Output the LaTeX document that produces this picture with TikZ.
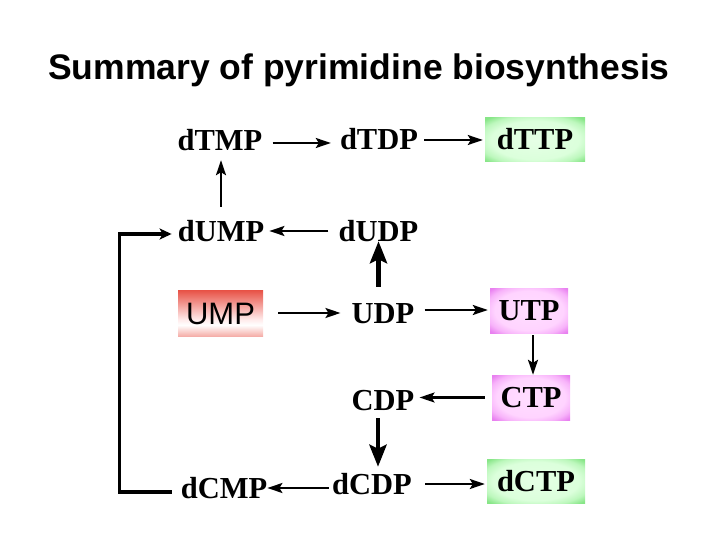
\documentclass[tikz,border=0pt]{standalone}
\usepackage{fontspec}
\setmainfont{Liberation Serif}
\setsansfont{Liberation Sans}
\usetikzlibrary{arrows.meta}
\pgfdeclareradialshading{greenglow}{\pgfpoint{0bp}{0bp}}{rgb(0bp)=(0.9,1,0.9); rgb(22bp)=(0.86,1,0.86); rgb(28.5bp)=(0.74,0.97,0.74); rgb(34bp)=(0.53,0.9,0.53); rgb(50bp)=(0.52,0.9,0.52)}
\pgfdeclareradialshading{pinkglow}{\pgfpoint{0bp}{0bp}}{rgb(0bp)=(1,0.87,1); rgb(22bp)=(1,0.83,1); rgb(28.5bp)=(0.97,0.7,0.98); rgb(34bp)=(0.91,0.5,0.94); rgb(50bp)=(0.9,0.5,0.93)}
\pgfdeclareverticalshading{umpshade}{100bp}{rgb(0bp)=(0.93,0.4,0.36); rgb(15bp)=(0.93,0.42,0.38); rgb(37bp)=(1,1,1); rgb(43bp)=(1,0.92,0.92); rgb(78bp)=(0.9,0.26,0.21); rgb(100bp)=(0.88,0.22,0.18)}
\tikzset{
  cmpd/.style={font=\fontsize{30.5}{31}\selectfont\bfseries, inner sep=0pt, text height=20pt, text depth=0pt},
  gbox/.style={cmpd, shading=greenglow, minimum width=100pt, minimum height=44pt},
  pbox/.style={cmpd, shading=pinkglow, minimum width=78pt, minimum height=45pt},
  rbox/.style={font=\sffamily\fontsize{31}{31}\selectfont, inner sep=0pt, text height=22pt, text depth=0pt, shading=umpshade, minimum width=85pt, minimum height=46pt},
  thinarrow/.style={line width=2.2pt, -{Stealth[length=15pt,width=10pt,inset=3pt]}},
  thickarrow/.style={line width=4.5pt, -{Stealth[length=22pt,width=17pt,inset=4pt]}},
  loopline/.style={line width=3.5pt, -{Stealth[length=12pt,width=11pt,inset=3pt]}},
}
\begin{document}
\begin{tikzpicture}[x=1pt,y=-1pt]
\useasboundingbox (0,0) rectangle (720,540);
\node[font=\sffamily\bfseries\fontsize{35.5}{36}\selectfont, anchor=base, inner sep=0pt] (title) at (359,80) {Summary of pyrimidine biosynthesis};

\node[cmpd] (dTMP) at (220,141) {dTMP};
\node[cmpd] (dTDP) at (379,140) {dTDP};
\node[gbox] (dTTP) at (535,140) {dTTP};
\node[cmpd] (dUMP) at (221,231) {dUMP};
\node[cmpd] (dUDP) at (378.5,231) {dUDP};
\node[rbox] (UMP) at (220.5,313) {UMP};
\node[cmpd] (UDP) at (383,313) {UDP};
\node[pbox] (UTP) at (529,310.5) {UTP};
\node[pbox] (CTP) at (531,397.5) {CTP};
\node[cmpd] (CDP) at (383,400) {CDP};
\node[cmpd] (dCDP) at (372,484) {dCDP};
\node[cmpd] (dCMP) at (224,488) {dCMP};
\node[gbox, minimum width=98pt] (dCTP) at (536,481) {dCTP};

\draw[thinarrow, shorten <=10pt, shorten >=9pt] ([yshift=-2pt]dTMP.east) -- ([yshift=-2pt]dTMP.east -| dTDP.west);
\draw[thinarrow, shorten <=6pt, shorten >=2pt] (dTDP.east) -- (dTDP.east -| dTTP.west);
\draw[thinarrow, shorten <=14pt, shorten >=9pt] (dUMP.north) -- (dUMP.north |- dTMP.south);
\draw[thinarrow, shorten <=10pt, shorten >=5pt] (dUDP.west) -- (dUDP.west -| dUMP.east);
\draw[thickarrow, shorten <=16pt] (UDP.north -| dUDP.south) -- (dUDP.south);
\draw[thinarrow, shorten <=15pt, shorten >=11pt] (UMP.east) -- (UMP.east -| UDP.west);
\draw[thinarrow, shorten <=10pt, shorten >=2pt] ([yshift=3pt]UDP.east) -- ([yshift=3pt]UDP.east -| UTP.west);
\draw[thinarrow, shorten <=2pt] ([xshift=4pt]UTP.south) -- ([xshift=4pt]UTP.south |- CTP.north);
\draw[thinarrow, shorten <=7pt, shorten >=5pt] (CTP.west) -- (CTP.west -| CDP.east);
\draw[thickarrow, shorten <=8pt, shorten >=7pt] ([xshift=-5pt]CDP.south) -- ([xshift=-5pt]CDP.south |- dCDP.north);
\draw[thinarrow, shorten <=3pt] ([yshift=-4pt]dCDP.west) -- ([yshift=-4pt]dCDP.west -| dCMP.east);
\draw[thinarrow, shorten <=13pt, shorten >=2pt] (dCDP.east) -- (dCDP.east -| dCTP.west);
\draw[loopline, shorten <=9pt, shorten >=6pt] ([yshift=-4pt]dCMP.west) -- ++(-61,0) |- ([yshift=-3pt]dUMP.west);
\end{tikzpicture}
\end{document}
